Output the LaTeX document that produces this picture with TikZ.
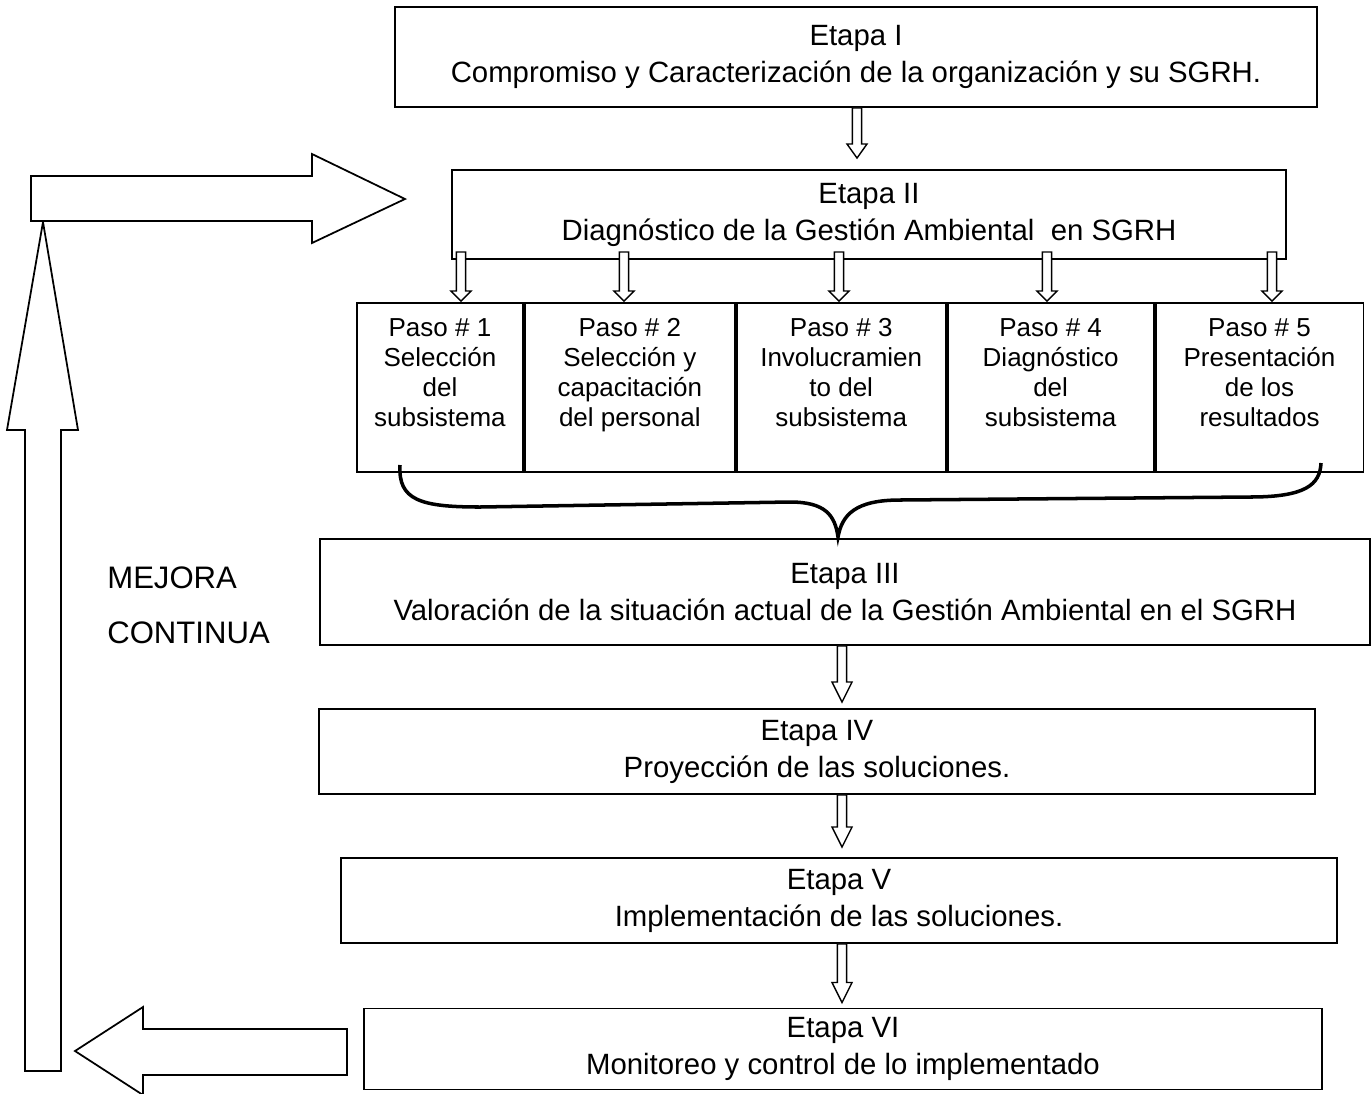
\documentclass[tikz,border=0pt]{standalone}
\usepackage{fontspec}
\setmainfont{Liberation Sans}
\usetikzlibrary{positioning,calc}

\tikzset{
  etapa/.style={draw, line width=1.1pt, align=center, inner sep=0pt,
    font=\fontsize{16.7}{21}\selectfont},
  paso/.style={draw, line width=1.1pt, align=center, inner sep=0pt,
    minimum height=3.38cm, anchor=west, font=\fontsize{14.8}{17}\selectfont},
  flecha/.style={draw, line width=0.8pt, fill=white},
  bloque/.style={draw, line width=1pt, fill=white},
}
% hollow arrow pointing down: start, tip, head length
\newcommand{\flechaabajo}[3]{%
  \draw[flecha] let \p1=(#1), \p2=(#2) in
    (\x1-2.6pt,\y1) -- (\x1-2.6pt,\y2+#3) -- (\x1-5.7pt,\y2+#3) -- (\x1,\y2)
    -- (\x1+5.7pt,\y2+#3) -- (\x1+2.6pt,\y2+#3) -- (\x1+2.6pt,\y1) -- cycle;}

\begin{document}
\begin{tikzpicture}[x=0.02cm, y=-0.02cm]
    \useasboundingbox (0,0) rectangle (1372,1093);

    % etapas
    \node[etapa, minimum width=18.44cm, minimum height=2cm] (e1) at (856,57)
      {Etapa I\\Compromiso y Caracterización de la organización y su SGRH.};
    \node[etapa, minimum width=16.68cm, minimum height=1.78cm] (e2) at (869,214.5)
      {Etapa II\\Diagnóstico de la Gestión Ambiental~ en SGRH};

    % pasos
    \node[paso, minimum width=3.32cm] (p1) at (356,387.5)
      {Paso \# 1\\Selección\\del\\subsistema\\ \mbox{}};
    \node[paso, minimum width=4.2cm, right=0pt of p1] (p2)
      {Paso \# 2\\Selección y\\capacitación\\del personal\\ \mbox{}};
    \node[paso, minimum width=4.18cm, right=0pt of p2] (p3)
      {Paso \# 3\\Involucramien\\to del\\subsistema\\ \mbox{}};
    \node[paso, minimum width=4.12cm, right=0pt of p3] (p4)
      {Paso \# 4\\Diagnóstico\\del\\subsistema\\ \mbox{}};
    \node[paso, minimum width=4.16cm, right=0pt of p4] (p5)
      {Paso \# 5\\Presentación\\de los\\resultados\\ \mbox{}};

    \node[etapa, minimum width=21.02cm, minimum height=2.12cm] (e3) at (845,592)
      {Etapa III\\Valoración de la situación actual de la Gestión Ambiental en el SGRH};
    \node[etapa, minimum width=19.92cm, minimum height=1.7cm] (e4) at (817,751.5)
      {Etapa IV\\Proyección de las soluciones.};
    \node[etapa, minimum width=19.92cm, minimum height=1.7cm] (e5) at (839,900.5)
      {Etapa V\\Implementación de las soluciones.};
    \node[etapa, minimum width=19.16cm, minimum height=1.62cm] (e6) at (843,1049)
      {Etapa VI\\Monitoreo y control de lo implementado};

    \node[anchor=west, align=left, inner sep=0pt,
      font=\fontsize{17.7}{31.3}\selectfont] (mejora) at (107,605)
      {MEJORA\\CONTINUA};

    % flechas entre etapas
    \flechaabajo{e1.south -| 857,0}{$(e2.north -| 857,0)+(0,-11)$}{8pt}
    \foreach \paso/\xpos in {p1/461, p2/624, p3/839, p4/1047, p5/1272}
      \flechaabajo{$(e2.south -| \xpos,0)+(0,-8)$}{$(\paso.north -| \xpos,0)+(0,-1)$}{5.7pt};
    \flechaabajo{e3.south -| 842,0}{$(e4.north -| 842,0)+(0,-6)$}{11.4pt}
    \flechaabajo{e4.south -| 842,0}{$(e5.north -| 842,0)+(0,-10)$}{11.4pt}
    \flechaabajo{e5.south -| 842,0}{$(e6.north -| 842,0)+(0,-5)$}{11.4pt}

    % llave
    \draw[line width=2pt] (400,465) .. controls (398,500) and (420,507) .. (480,507)
      -- (790,502) .. controls (825,502) and (835,515) .. (838,537)
      .. controls (842,515) and (855,500) .. (900,500)
      -- (1250,497) .. controls (1305,497) and (1320,485) .. (1321,463);

    % mejora continua
    \draw[bloque] (347,1029) -- (143,1029) -- (143,1007) -- (75,1051) -- (143,1095)
      -- (143,1075) -- (347,1075) -- cycle;
    \draw[bloque] (25,1071) -- (25,430) -- (7,430) -- (43,222) -- (78,430)
      -- (61,430) -- (61,1071) -- cycle;
    \draw[bloque] (31,176) -- (312,176) -- (312,154) -- (405,199) -- (312,243)
      -- (312,221) -- (31,221) -- cycle;
\end{tikzpicture}
\end{document}
